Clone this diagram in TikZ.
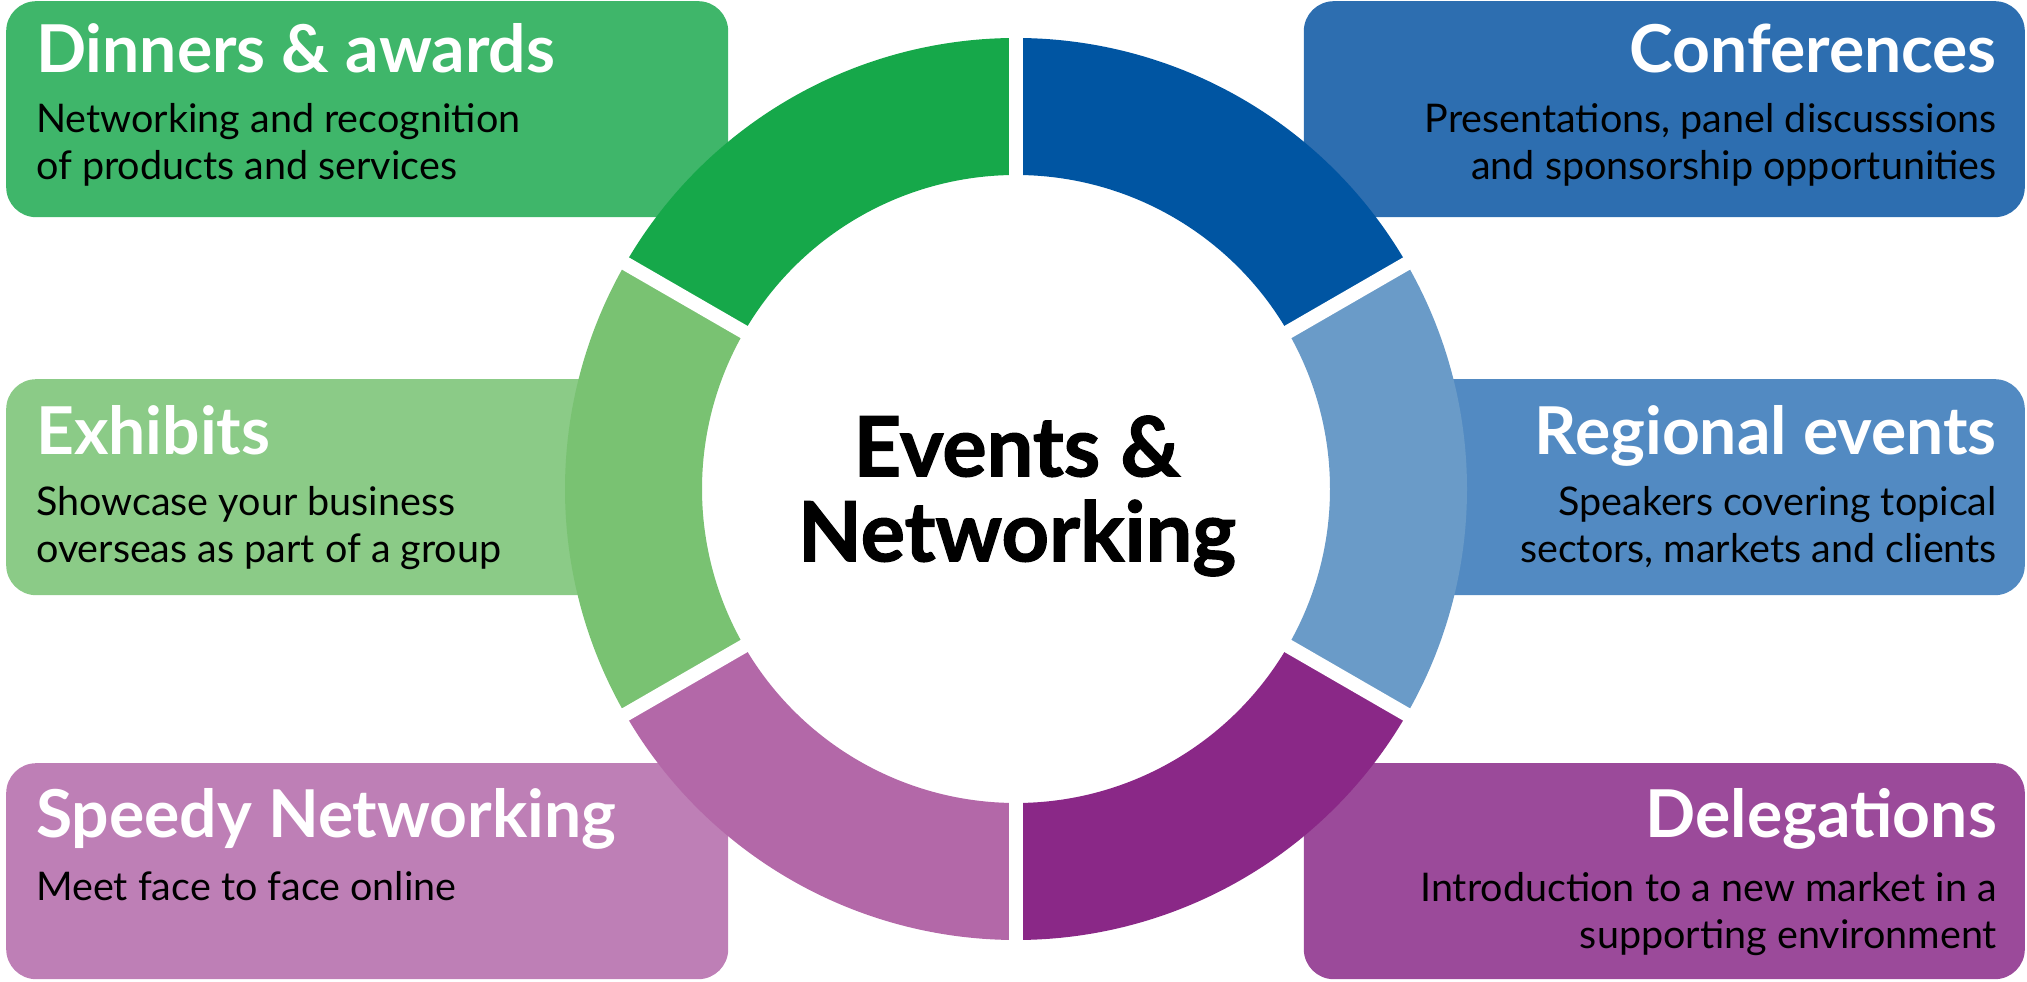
\documentclass[tikz,border=0pt]{standalone}
\usepackage{fontspec}
\setmainfont{Lato}
\newfontfamily\hubfont{Lato}[BoldFeatures={FakeBold=1.4}]
\usetikzlibrary{calc}

% box and ring colours
\definecolor{dinnersbox}{RGB}{63,182,106}
\definecolor{dinnersseg}{RGB}{22,168,74}
\definecolor{exhibitsbox}{RGB}{139,203,135}
\definecolor{exhibitsseg}{RGB}{121,194,114}
\definecolor{speedybox}{RGB}{190,127,182}
\definecolor{speedyseg}{RGB}{179,104,168}
\definecolor{confbox}{RGB}{45,110,176}
\definecolor{confseg}{RGB}{0,85,162}
\definecolor{regionalbox}{RGB}{82,138,194}
\definecolor{regionalseg}{RGB}{106,155,200}
\definecolor{delegbox}{RGB}{155,74,154}
\definecolor{delegseg}{RGB}{138,40,135}

\begin{document}
\begin{tikzpicture}[x=1pt,y=1pt,
    box/.style={rounded corners=30pt, inner sep=0pt, minimum height=216pt},
    ttl/.style={text=white, inner sep=0pt, font=\bfseries\fontsize{66}{70}\selectfont},
    txt/.style={text=black, inner sep=0pt, font=\fontsize{39.5}{47}\selectfont},
    gap/.style={white, line width=14pt}]
    \useasboundingbox (0,0) rectangle (2027,982);

    % Parameters
    \coordinate (C) at (1016,493); % centre of the ring
    \def\Rout{451} % outer radius
    \def\Rin{314} % inner radius

    % Boxes (behind the ring)
    \node[box, fill=dinnersbox, minimum width=722pt, anchor=north west] (dinners) at (6,981) {};
    \node[box, fill=exhibitsbox, minimum width=650pt, anchor=north west] (exhibits) at (6,603) {};
    \node[box, fill=speedybox, minimum width=722pt, anchor=north west] (speedy) at (6,219) {};
    \node[box, fill=confbox, minimum width=721pt, anchor=north east] (conf) at (2025,981) {};
    \node[box, fill=regionalbox, minimum width=650pt, anchor=north east] (regional) at (2025,603) {};
    \node[box, fill=delegbox, minimum width=721pt, anchor=north east] (deleg) at (2025,219) {};

    % Ring segments
    \foreach \a/\col in {90/dinnersseg, 150/exhibitsseg, 210/speedyseg,
                         270/delegseg, 330/regionalseg, 30/confseg} {
        \fill[\col] ($(C)+(\a:\Rout)$) arc[start angle=\a, delta angle=60, radius=\Rout]
            -- ($(C)+(\a+60:\Rin)$) arc[start angle=\a+60, delta angle=-60, radius=\Rin] -- cycle;
    }
    % white cuts between segments
    \foreach \a in {30,90,...,330}
        \draw[gap] ($(C)+(\a:\Rin-3)$) -- ($(C)+(\a:\Rout+3)$);

    % Centre title
    \node[align=center, inner sep=0pt, font=\hubfont\bfseries\fontsize{83}{85}\selectfont] (hub) at (1017,486) {Events \&\\Networking};

    % Left texts (base = last line)
    \node[ttl, anchor=base west] (dinnersT) at (36,909) {Dinners \& awards};
    \node[txt, anchor=base west, align=left] (dinnersB) at (36,802) {Networking and recognition\\of products and services};
    \node[ttl, anchor=base west] (exhibitsT) at (36,527) {Exhibits};
    \node[txt, anchor=base west, align=left] (exhibitsB) at (36,419) {Showcase your business\\overseas as part of a group};
    \node[ttl, anchor=base west] (speedyT) at (36,144) {Speedy Networking};
    \node[txt, anchor=base west, align=left] (speedyB) at (36,81) {Meet face to face online};

    % Right texts
    \node[ttl, anchor=base east] (confT) at (1997,909) {Conferences};
    \node[txt, anchor=base east, align=right] (confB) at (1997,802) {Presentations, panel discusssions\\and sponsorship opportunities};
    \node[ttl, anchor=base east] (regionalT) at (1997,527) {Regional events};
    \node[txt, anchor=base east, align=right] (regionalB) at (1997,419) {Speakers covering topical\\sectors, markets and clients};
    \node[ttl, anchor=base east] (delegT) at (1997,144) {Delegations};
    \node[txt, anchor=base east, align=right] (delegB) at (1997,33) {Introduction to a new market in a\\supporting environment};
\end{tikzpicture}
\end{document}
